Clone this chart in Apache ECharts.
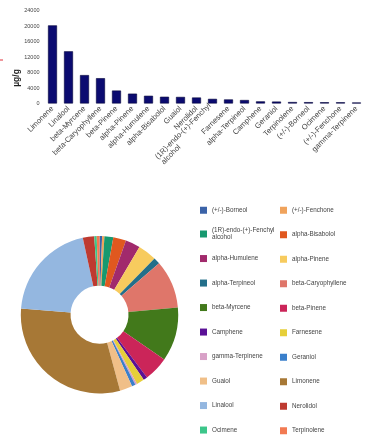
<!DOCTYPE html>
<html>
<head>
<meta charset="utf-8">
<script src="https://cdn.jsdelivr.net/npm/echarts@6/dist/echarts.min.js"></script>
<style>
html,body{margin:0;padding:0;background:#fff;}
#chart{width:383px;height:448px;}
</style>
</head>
<body>
<div id="chart"></div>
<script>
// ---- data ----
const categories = ["Limonene","Linalool","beta-Myrcene","beta-Caryophyllene","beta-Pinene","alpha-Pinene","alpha-Humulene","alpha-Bisabolol","Guaiol","Nerolidol","(1R)-endo-(+)-Fenchyl alcohol","Farnesene","alpha-Terpineol","Camphene","Geraniol","Terpinolene","(+/-)-Borneol","Ocimene","(+/-)-Fenchone","gamma-Terpinene"];
const values = [20200, 13500, 7350, 6550, 3350, 2550, 2000, 1750, 1700, 1550, 1200, 1050, 900, 550, 500, 380, 350, 330, 320, 250];
const yTicks = [0, 4000, 8000, 12000, 16000, 20000, 24000];
const pieOrder = ["(+/-)-Borneol","(+/-)-Fenchone","(1R)-endo-(+)-Fenchyl alcohol","alpha-Bisabolol","alpha-Humulene","alpha-Pinene","alpha-Terpineol","beta-Caryophyllene","beta-Myrcene","beta-Pinene","Camphene","Farnesene","gamma-Terpinene","Geraniol","Guaiol","Limonene","Linalool","Nerolidol","Ocimene","Terpinolene"];
const unitLabel = "µg/g";

// ---- styles ----
const pieColors = {
  "(+/-)-Borneol":"#3b63a8","(+/-)-Fenchone":"#f0a35c","(1R)-endo-(+)-Fenchyl alcohol":"#17996f",
  "alpha-Bisabolol":"#e0581f","alpha-Humulene":"#a12a6c","alpha-Pinene":"#f7cb5e","alpha-Terpineol":"#236f8a",
  "beta-Caryophyllene":"#df766a","beta-Myrcene":"#42791b","beta-Pinene":"#cb2559","Camphene":"#5a1196",
  "Farnesene":"#e6cf3a","gamma-Terpinene":"#d8a1c7","Geraniol":"#3a7fcb","Guaiol":"#f0bf88",
  "Limonene":"#a77836","Linalool":"#94b7e0","Nerolidol":"#be3a30","Ocimene":"#3cc68a","Terpinolene":"#f27a52"
};

const valueByName = {};
categories.forEach((c, i) => { valueByName[c] = values[i]; });
const pieData = pieOrder.map(n => ({ name: n, value: valueByName[n], itemStyle: { color: pieColors[n] } }));

const leftCol = pieOrder.filter((_, i) => i % 2 === 0);
const rightCol = pieOrder.filter((_, i) => i % 2 === 1);
const fenchyl = "(1R)-endo-(+)-Fenchyl alcohol";

const legendText = { fontSize: 6.3, color: '#444', fontFamily: 'Liberation Sans, Arial, sans-serif', lineHeight: 7.5 };
function legendBase(data, left, top) {
  return {
    orient: 'vertical', left: left, top: top, padding: 0,
    itemWidth: 7, itemHeight: 7, itemGap: 17, icon: 'rect',
    selectedMode: false, data: data, textStyle: legendText,
    formatter: n => n === fenchyl ? "(1R)-endo-(+)-Fenchyl\nalcohol" : n
  };
}

const chart = echarts.init(document.getElementById('chart'), null, { renderer: 'canvas' });
chart.setOption({
  animation: false,
  backgroundColor: '#fff',
  grid: { left: 44.5, right: 18.5, top: 10.7, bottom: 344.5, containLabel: false },
  xAxis: {
    type: 'category', data: categories,
    axisLine: { show: false }, axisTick: { show: false },
    axisLabel: {
      interval: 0, rotate: 45, fontSize: 7.6, color: '#444', margin: 4,
      fontFamily: 'Liberation Sans, Arial, sans-serif',
      formatter: v => v === fenchyl ? "(1R)-endo-(+)-Fenchyl\nalcohol                        " : v
    }
  },
  yAxis: {
    type: 'value', min: 0, max: 24000, interval: 4000,
    axisLine: { show: false }, axisTick: { show: false }, splitLine: { show: false },
    axisLabel: { fontSize: 5.5, color: '#444', margin: 5, fontFamily: 'Liberation Sans, Arial, sans-serif',
      formatter: v => yTicks.includes(v) ? String(v) : '' }
  },
  legend: [
    legendBase([leftCol[0]], 200, 206.5),
    legendBase([fenchyl], 200, 226.5),
    legendBase(leftCol.slice(2), 200, 254.8),
    legendBase(rightCol, 280, 206.5)
  ],
  series: [
    {
      type: 'bar', data: values, barWidth: 9,
      itemStyle: { color: '#0b0b70', borderColor: '#05053a', borderWidth: 0.6 }
    },
    {
      type: 'pie', center: [99.5, 314.7], radius: [29, 78.7], startAngle: 90, clockwise: true,
      label: { show: false }, labelLine: { show: false }, silent: true,
      itemStyle: { borderWidth: 0 },
      data: pieData
    }
  ],
  graphic: [
    { type: 'line', shape: { x1: 0, y1: 60, x2: 3, y2: 60 }, style: { stroke: '#e0303a', lineWidth: 1 } },
    { type: 'text', x: 17, y: 78, rotation: Math.PI / 2,
      style: { text: unitLabel, fontSize: 8.5, fontWeight: 'bold', fill: '#222',
        fontFamily: 'Liberation Sans, Arial, sans-serif', align: 'center', verticalAlign: 'middle' } }
  ]
});
</script>
</body>
</html>
